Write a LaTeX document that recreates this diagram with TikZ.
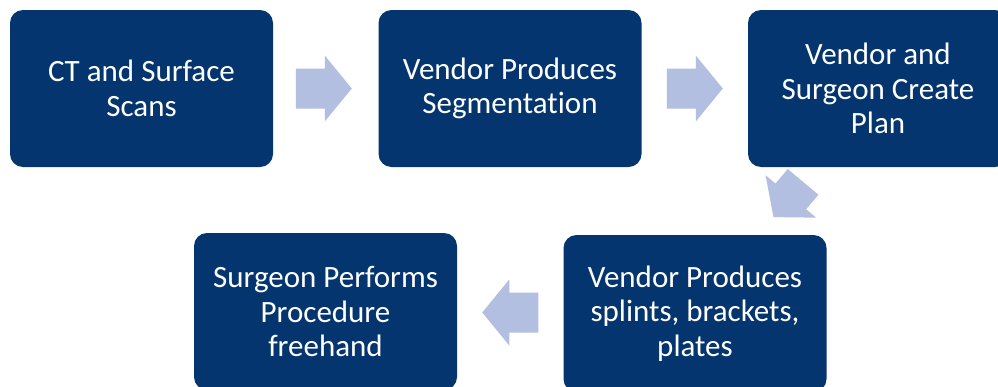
\documentclass[tikz,border=0pt]{standalone}
\usepackage{fontspec}
\setmainfont{Carlito}[Ligatures=NoCommon]
\usetikzlibrary{calc}
\definecolor{boxblue}{HTML}{04356F}
\definecolor{arrowblue}{HTML}{B2BFE0}
\tikzset{
  stepbox/.style={fill=boxblue, rounded corners=13pt, minimum width=263pt,
    minimum height=157pt, inner sep=0pt, text=white, align=center,
    font=\fontsize{31}{34.5}\selectfont},
  flowarrow/.style={fill=arrowblue}
}
% block arrow: #1 centre coordinate, #2 angle, #3 total length
\newcommand\flowblock[3]{%
  \fill[flowarrow, shift={(#1)}, rotate=#2]
    ({-#3/2},-20) -- ({#3/2-27},-20) -- ({#3/2-27},-33) -- ({#3/2},0)
    -- ({#3/2-27},33) -- ({#3/2-27},20) -- ({-#3/2},20) -- cycle;}
\begin{document}
\begin{tikzpicture}[x=1pt,y=-1pt]
  \useasboundingbox (0,0) rectangle (998,386);
  \clip (0,0) rectangle (998,386);
  \fill[white] (0,0) rectangle (998,386);

  \node[stepbox] (scan) at (141.5,88.5) {CT and Surface\\Scans};
  \node[stepbox] (seg)  at (510,88.5) {Vendor Produces\\Segmentation};
  \node[stepbox, minimum width=260pt] (plan) at (878,88.5) {Vendor and\\Surgeon Create\\Plan};
  \node[stepbox] (make) at (695,313.5) {Vendor Produces\\splints, brackets,\\plates};
  \node[stepbox] (op)   at (325.5,311.5) {Surgeon Performs\\Procedure\\freehand};

  \coordinate (a1) at ($(scan.east)!0.5!(seg.west)+(-2,0)$);
  \coordinate (a2) at ($(seg.east)!0.5!(plan.west)$);
  \coordinate (a3) at ($(plan.south west)!0.5!(make.north east)+(1,-1.5)$);
  \coordinate (a4) at ($(make.west)!0.5!(op.east)$);

  \flowblock{a1}{0}{56}
  \flowblock{a2}{0}{56}
  \flowblock{a3}{230}{46}
  \flowblock{a4}{180}{56}
\end{tikzpicture}
\end{document}
